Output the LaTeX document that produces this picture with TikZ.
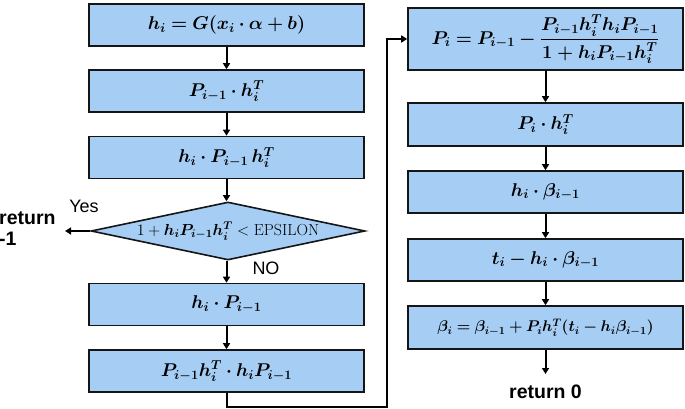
\RequirePackage{fix-cm}
\documentclass[tikz,border=0pt]{standalone}
\usepackage{amsmath}
\usepackage{bm}
\usepackage{fontspec}
\newfontfamily\labelfont{Liberation Sans}
\usetikzlibrary{shapes.geometric,arrows.meta}
\definecolor{boxblue}{HTML}{A6CEF5}
\definecolor{edge}{HTML}{151515}
\tikzset{
  box/.style={draw=edge, line width=1.6pt, fill=boxblue, minimum width=275pt, minimum height=42pt, inner sep=0pt, font=\fontsize{18.5}{20}\selectfont},
  cond/.style={draw=edge, line width=1.6pt, fill=boxblue, diamond, aspect=4.72, minimum width=274pt, minimum height=58pt, inner sep=0pt, font=\fontsize{16}{17}\selectfont},
  arr/.style={draw=black, line width=2pt, -{Triangle[length=6pt,width=7pt]}},
  lbl/.style={font=\labelfont\bfseries\fontsize{19.5}{21}\selectfont, inner sep=0pt},
  thin/.style={font=\labelfont\fontsize{18}{19}\selectfont, inner sep=0pt},
}
\begin{document}
\begin{tikzpicture}[x=1pt,y=-1pt]
\useasboundingbox (0,0) rectangle (685,409);
% left column
\node[box] (l1) at (226.5,25) {$\bm{h_i = G(x_i\cdot \alpha + b)}$};
\node[box] (l2) at (226.5,91) {$\bm{P_{i-1}\cdot h_i^T}$};
\node[box] (l3) at (226.5,157.5) {$\bm{h_i\cdot P_{i-1}\,h_i^T}$};
\node[cond] (d) at (228,231) {$1+\bm{h_iP_{i-1}h_i^T} < \mathrm{EPSILON}$};
\node[box] (l4) at (226.5,304.5) {$\bm{h_i\cdot P_{i-1}}$};
\node[box] (l5) at (226.5,371) {$\bm{P_{i-1}h_i^T\cdot h_iP_{i-1}}$};
% right column
\node[box, minimum height=62pt] (r1) at (545.5,39) {$\bm{P_i = P_{i-1} - \dfrac{P_{i-1}h_i^Th_iP_{i-1}}{1+h_iP_{i-1}h_i^T}}$};
\node[box, minimum height=43pt] (r2) at (545.5,124.5) {$\bm{P_i\cdot h_i^T}$};
\node[box] (r3) at (545.5,192) {$\bm{h_i\cdot \beta_{i-1}}$};
\node[box] (r4) at (545.5,260) {$\bm{t_i - h_i\cdot \beta_{i-1}}$};
\node[box, minimum height=43pt, font=\fontsize{15.5}{17}\selectfont] (r5) at (545.5,327.5) {$\bm{\beta_i = \beta_{i-1} + P_ih_i^T(t_i - h_i\beta_{i-1})}$};
% labels
\node[thin] (yes) at (84,206) {Yes};
\node[thin] (no) at (266,268) {NO};
\node[lbl, anchor=west, align=left] (ret1) at (-1,229) {return\\[0pt]-1};
\node[lbl] (ret0) at (545.5,392) {return 0};
\coordinate (yend) at (65,231);
\coordinate (r0end) at (545.5,374);
\coordinate (c1) at (226.5,406.5);
\coordinate (c2) at (387,406.5);
% connectors
\draw[arr] (l1) -- (l2);
\draw[arr] (l2) -- (l3);
\draw[arr] (l3.south) -- (l3.south |- d.north);
\draw[arr] (l4.north |- d.south) -- (l4.north);
\draw[arr] (l4) -- (l5);
\draw[arr] (d.west) -- (yend);
\draw[arr] (l5.south) -- (c1) -- (c2) |- (r1.west);
\draw[arr] (r1) -- (r2);
\draw[arr] (r2) -- (r3);
\draw[arr] (r3) -- (r4);
\draw[arr] (r4) -- (r5);
\draw[arr] (r5.south) -- (r0end);
\end{tikzpicture}
\end{document}
